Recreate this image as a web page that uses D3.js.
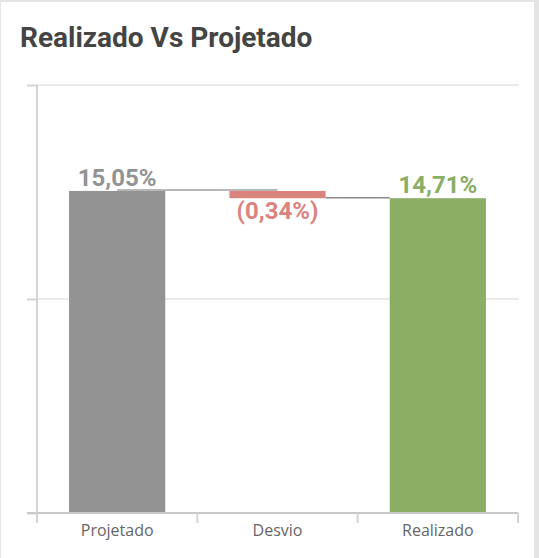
<!DOCTYPE html>
<html>
<head>
<meta charset="utf-8">
<script src="https://cdn.jsdelivr.net/npm/d3@7"></script>
<style>
  body { margin: 0; background: #e4e4e4; overflow: hidden; }
  #card { position: absolute; left: 1px; top: 2px; width: 533px; height: 600px; background: #fff; }
  #title { position: absolute; left: 19px; top: 19px; font-family: Roboto, sans-serif; font-weight: bold;
           font-size: 28px; color: #444; white-space: nowrap; }
</style>
</head>
<body>
<div id="card">
  <div id="title">Realizado Vs Projetado</div>
  <div id="chart"></div>
</div>
<script>
// data
categories = ["Projetado", "Desvio", "Realizado"]
starts = [0, 14.71, 0]
ends = [15.05, 15.05, 14.71]
labels = ["15,05%", "(0,34%)", "14,71%"]
colors = ["#939393", "#db837f", "#8bad64"]
yTicks = [0, 10, 20]

margin = {top: 83, left: 36, right: 16, bottom: 45}
width = 533 - margin.left - margin.right
height = 556 - margin.top - margin.bottom

svg = d3.select("#chart")
  .append("svg")
  .attr("width", 533)
  .attr("height", 556)
  .style("position", "absolute").style("left", 0).style("top", 0)
  .append("g")
  .attr("transform", `translate(${margin.left}, ${margin.top})`)

x = d3.scaleBand().domain(categories).range([0, width]).paddingInner(0.4).paddingOuter(0.2)
y = d3.scaleLinear().domain([0, 20]).range([height, 0])

// gridlines
svg.selectAll(".grid")
  .data(yTicks.slice(1))
  .join("line")
    .attr("x1", 0).attr("x2", width + 1)
    .attr("y1", d => y(d)).attr("y2", d => y(d))
    .style("stroke", "#ebebeb").style("stroke-width", 2)

// y axis (ticks only, no labels)
svg.append("g")
  .call(d3.axisLeft(y).tickValues(yTicks).tickSize(10).tickFormat(""))
  .call(g => g.selectAll("line").style("stroke", "#d4d4d4").style("stroke-width", 2))
  .call(g => g.select(".domain").style("stroke", "#d4d4d4").style("stroke-width", 2)
     .attr("d", `M0,${y(20)}V${height}`))

// bars
svg.selectAll(".bar")
  .data(categories)
  .join("rect")
    .attr("x", d => x(d))
    .attr("width", x.bandwidth())
    .attr("y", (d, i) => y(ends[i]))
    .attr("height", (d, i) => y(starts[i]) - y(ends[i]))
    .style("fill", (d, i) => colors[i])

// connectors
svg.append("line")
  .attr("x1", x("Projetado") + x.bandwidth() / 2).attr("x2", x("Desvio") + x.bandwidth() / 2)
  .attr("y1", y(ends[0]) - 1).attr("y2", y(ends[0]) - 1)
  .style("stroke", "#a0a0a0").style("stroke-width", 1.5)
svg.append("line")
  .attr("x1", x("Desvio") + x.bandwidth()).attr("x2", x("Realizado"))
  .attr("y1", y(ends[2]) - 0.5).attr("y2", y(ends[2]) - 0.5)
  .style("stroke", "#8a8a8a").style("stroke-width", 1.5)

// x axis
svg.append("g")
  .attr("transform", `translate(0, ${height})`)
  .call(d3.axisBottom(x).tickSize(0).tickPadding(12))
  .call(g => g.select(".domain").remove())
  .call(g => g.selectAll("text").style("font-family", "'Open Sans', sans-serif")
     .style("font-size", "16px").style("fill", "#666"))
svg.append("line")
  .attr("x1", -10).attr("x2", width)
  .attr("y1", height).attr("y2", height)
  .style("stroke", "#c8c8c8").style("stroke-width", 2)
svg.selectAll(".xtick")
  .data(d3.range(categories.length + 1))
  .join("line")
    .attr("x1", d => d * x.step() + x.step() * x.paddingOuter() - x.step() * x.paddingInner() / 2)
    .attr("x2", d => d * x.step() + x.step() * x.paddingOuter() - x.step() * x.paddingInner() / 2)
    .attr("y1", height).attr("y2", height + 10)
    .style("stroke", "#d4d4d4").style("stroke-width", 2)

// value labels
svg.selectAll(".lbl")
  .data(categories)
  .join("text")
    .attr("x", d => x(d) + x.bandwidth() / 2)
    .attr("y", (d, i) => i == 1 ? y(starts[i]) + 21 : y(ends[i]) - 5)
    .attr("text-anchor", "middle")
    .style("font-family", "Roboto, sans-serif")
    .style("font-weight", "bold")
    .style("font-size", "24px")
    .style("fill", (d, i) => colors[i])
    .text((d, i) => labels[i])
</script>
</body>
</html>
